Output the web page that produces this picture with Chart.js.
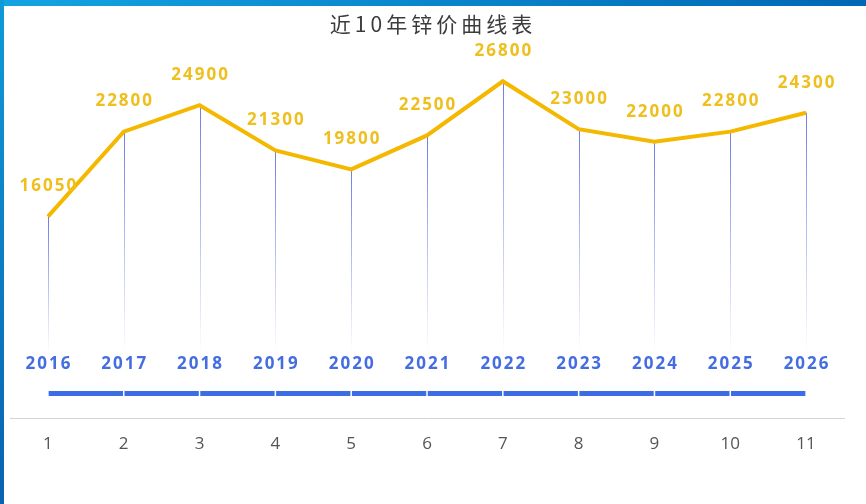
<!DOCTYPE html>
<html>
<head>
<meta charset="utf-8">
<script src="https://cdn.jsdelivr.net/npm/chart.js@4/dist/chart.umd.min.js"></script>
<style>
  html, body { margin: 0; padding: 0; background: #fff; }
  #wrap { position: relative; width: 866px; height: 504px; overflow: hidden; }
  #myChart { position: absolute; left: 0; top: 0; }
  .band-top { position: absolute; left: 0; top: 0; width: 866px; height: 6px;
    background: linear-gradient(to right, #14a4e2, #0067b6); z-index: 2; }
  .band-left { position: absolute; left: 0; top: 0; width: 4px; height: 504px;
    background: linear-gradient(to bottom, #0f9ad8, #0a62b2); z-index: 2; }
  #title { position: absolute; left: 0; top: 11px; width: 866px; text-align: center;
    font: 21px "Noto Sans CJK SC", sans-serif; line-height: 24px; letter-spacing: 4px;
    color: #3c3c3c; z-index: 3; }
</style>
</head>
<body>
<div id="wrap">
  <div class="band-top"></div>
  <div class="band-left"></div>
  <div id="title">近10年锌价曲线表</div>
  <canvas id="myChart" width="866" height="504"></canvas>
</div>
<script>
// chart data
const categories = ['1', '2', '3', '4', '5', '6', '7', '8', '9', '10', '11'];
const years = ['2016', '2017', '2018', '2019', '2020', '2021', '2022', '2023', '2024', '2025', '2026'];
const prices = [16050, 22800, 24900, 21300, 19800, 22500, 26800, 23000, 22000, 22800, 24300];
const baseLine = [2000, 2000, 2000, 2000, 2000, 2000, 2000, 2000, 2000, 2000, 2000];

// drops a fading blue line from each price point, then writes the labels
const dropLines = {
  id: 'dropLines',
  beforeDatasetsDraw(chart) {
    const ctx = chart.ctx;
    const pts = chart.getDatasetMeta(0).data;
    const basePts = chart.getDatasetMeta(1).data;
    ctx.save();
    pts.forEach((p, i) => {
      const bottom = basePts[i].y - 40;
      const g = ctx.createLinearGradient(0, p.y, 0, bottom);
      g.addColorStop(0, 'rgba(100,118,228,0.95)');
      g.addColorStop(1, 'rgba(100,118,228,0)');
      ctx.strokeStyle = g;
      ctx.lineWidth = 1;
      ctx.beginPath();
      ctx.moveTo(Math.round(p.x) + 0.5, p.y);
      ctx.lineTo(Math.round(p.x) + 0.5, bottom);
      ctx.stroke();
    });
    ctx.restore();
  },
  afterDatasetsDraw(chart) {
    const ctx = chart.ctx;
    const pts = chart.getDatasetMeta(0).data;
    const basePts = chart.getDatasetMeta(1).data;
    ctx.save();
    ctx.textAlign = 'center';
    ctx.textBaseline = 'middle';
    ctx.letterSpacing = '2px';
    ctx.font = 'bold 17px "Open Sans", sans-serif';
    // price labels
    ctx.fillStyle = '#efbf1e';
    pts.forEach((p, i) => {
      ctx.fillText(String(prices[i]), p.x + 1, p.y - 30);
    });
    // year labels
    ctx.fillStyle = '#456de2';
    basePts.forEach((p, i) => {
      ctx.fillText(years[i], p.x + 1, p.y - 29);
    });
    ctx.restore();
  }
};

const ctx = document.getElementById('myChart').getContext('2d');
let myChart = new Chart(ctx, {
  type: 'line',
  data: {
    labels: categories,
    datasets: [{
      data: prices,
      borderColor: '#f5b800',
      borderWidth: 4,
      pointRadius: 0,
      tension: 0
    }, {
      data: baseLine,
      borderColor: '#3c6de6',
      borderWidth: 5,
      pointStyle: 'line',
      rotation: 90,
      pointRadius: 3,
      pointBorderColor: '#ffffff',
      pointBorderWidth: 1.5,
      borderCapStyle: 'butt'
    }]
  },
  options: {
    responsive: false,
    animation: false,
    layout: { padding: { left: 10, right: 22, top: 41, bottom: 35 } },
    plugins: {
      legend: { display: false },
      tooltip: { enabled: false },
      title: { display: false }
    },
    scales: {
      x: {
        offset: true,
        grid: { display: false, drawTicks: false },
        border: { display: true, color: '#d4d4d4', width: 1 },
        ticks: {
          padding: 15,
          color: '#555',
          font: { size: 17, family: '"Open Sans", sans-serif' }
        }
      },
      y: {
        display: false,
        min: 0,
        max: 30000
      }
    }
  },
  plugins: [dropLines]
});
</script>
</body>
</html>
